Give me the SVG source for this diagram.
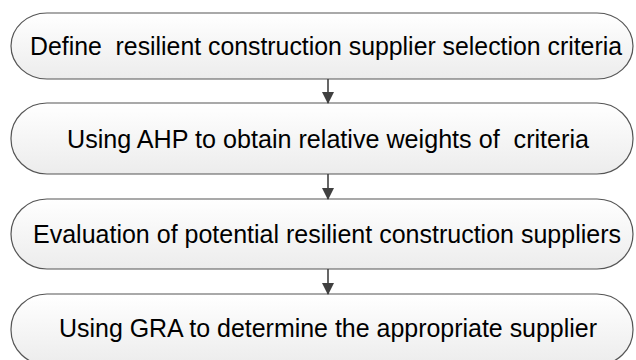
<svg xmlns="http://www.w3.org/2000/svg" width="636" height="360" viewBox="0 0 636 360">
<defs>
<linearGradient id="g" x1="0" y1="0" x2="0" y2="1">
<stop offset="0" stop-color="#ffffff"/>
<stop offset="1" stop-color="#ececec"/>
</linearGradient>
<marker id="ah" markerWidth="12" markerHeight="12" refX="11" refY="6" orient="auto" markerUnits="userSpaceOnUse">
<path d="M0,0 L12,6 L0,12 Z" fill="#404040"/>
</marker>
</defs>
<style>
.box{fill:url(#g);stroke:#555;stroke-width:1.2}
.t{font-family:"Liberation Sans",Arial,sans-serif;font-size:25px;fill:#000;text-anchor:middle;white-space:pre}
.c{stroke:#404040;stroke-width:1.6;fill:none}
</style>
<rect width="636" height="360" fill="#fff"/>
<g id="n1"><rect class="box" x="11" y="13" width="622" height="66" rx="36" ry="33"/><text class="t" x="326" y="55" textLength="592" lengthAdjust="spacingAndGlyphs" xml:space="preserve">Define  resilient construction supplier selection criteria</text></g>
<g id="n2"><rect class="box" x="11" y="103" width="622" height="71" rx="36" ry="35"/><text class="t" x="328" y="148" textLength="522" lengthAdjust="spacingAndGlyphs" xml:space="preserve">Using AHP to obtain relative weights of  criteria</text></g>
<g id="n3"><rect class="box" x="11" y="199" width="622" height="70" rx="36" ry="35"/><text class="t" x="327" y="243" textLength="588" lengthAdjust="spacingAndGlyphs">Evaluation of potential resilient construction suppliers</text></g>
<g id="n4"><rect class="box" x="11" y="294" width="622" height="71" rx="36" ry="35"/><text class="t" x="328" y="337" textLength="538" lengthAdjust="spacingAndGlyphs">Using GRA to determine the appropriate supplier</text></g>
<g id="connectors">
<line class="c" x1="328" y1="79" x2="328" y2="103" marker-end="url(#ah)"/>
<line class="c" x1="328" y1="174" x2="328" y2="199" marker-end="url(#ah)"/>
<line class="c" x1="328" y1="269" x2="328" y2="294" marker-end="url(#ah)"/>
</g>
</svg>
